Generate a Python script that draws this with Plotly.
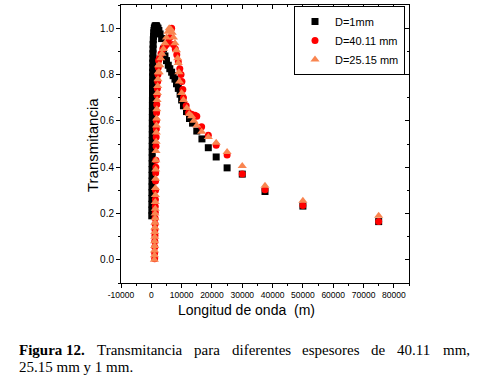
import plotly.graph_objects as go

# ---------------- data ----------------
series_names = ["D=1mm", "D=40.11 mm", "D=25.15 mm"]

x_1mm = [150, 170, 190, 200, 210, 220, 230, 240, 250, 260,
         270, 280, 290, 300, 310, 320, 330, 340, 350, 360,
         370, 380, 390, 400, 420, 440, 460, 480, 500, 530,
         560, 600, 650, 720, 800, 900, 1000, 1150, 1300, 1500,
         1700, 1900, 2200, 2500, 2900, 3400, 4000, 4500, 5000, 5600,
         6100, 6700, 7200, 7800, 8300, 8900, 9500, 10000, 10600, 11600,
         12600, 13600, 15000, 16700, 18800, 21400, 25000, 30000, 37500, 50000,
         75000]
y_1mm = [0.19, 0.215, 0.24, 0.265, 0.29, 0.315, 0.34, 0.365, 0.39, 0.415,
         0.44, 0.465, 0.49, 0.515, 0.54, 0.565, 0.59, 0.615, 0.64, 0.665,
         0.69, 0.715, 0.74, 0.765, 0.79, 0.81, 0.83, 0.85, 0.87, 0.89,
         0.91, 0.93, 0.95, 0.965, 0.98, 0.99, 1.0, 1.005, 1.01, 1.01,
         1.01, 1.005, 1.0, 0.99, 0.975, 0.955, 0.91, 0.88, 0.86, 0.84,
         0.825, 0.81, 0.795, 0.78, 0.76, 0.74, 0.715, 0.69, 0.665, 0.64,
         0.61, 0.59, 0.556, 0.522, 0.484, 0.444, 0.397, 0.37, 0.295, 0.232,
         0.165]

x_4011 = [1100, 1100, 1150, 1150, 1200, 1200, 1250, 1250, 1300, 1300,
          1350, 1400, 1400, 1450, 1500, 1500, 1550, 1600, 1650, 1700,
          1750, 1800, 1900, 2000, 2100, 2200, 2300, 2400,
          2700, 3200, 3800, 4400, 5000, 5600, 6100, 6700, 7300, 7900,
          8400, 8900, 9400, 9800, 10100, 10400, 10600, 11500, 12300, 13300,
          14400, 15000, 16600, 18800, 21400, 25000, 30000, 37500, 50000, 75000]
y_4011 = [0.005, 0.03, 0.055, 0.08, 0.105, 0.13, 0.155, 0.18, 0.205, 0.23,
          0.26, 0.30, 0.34, 0.375, 0.40, 0.43, 0.49, 0.53, 0.565, 0.60,
          0.635, 0.67, 0.71, 0.74, 0.77, 0.80, 0.83, 0.86,
          0.87, 0.89, 0.91, 0.92, 0.93, 0.94, 0.96, 1.0, 0.93, 0.91,
          0.885, 0.855, 0.825, 0.80, 0.77, 0.735, 0.70, 0.665, 0.635, 0.628,
          0.624, 0.62, 0.574, 0.538, 0.495, 0.452, 0.37, 0.303, 0.235, 0.165]

x_2515 = [1000, 1050, 1050, 1100, 1100, 1150, 1150, 1200, 1200, 1250,
          1250, 1300, 1300, 1350, 1350, 1400, 1450, 1500, 1550, 1600,
          1650, 1700, 1750, 1800, 1900, 2000, 2100, 2200, 2300, 2400,
          2600, 2800,
          3100, 3500, 4000, 4500, 5000, 5500, 5900, 6400, 6900, 7300,
          7800, 8300, 8700, 8900, 9100, 9300, 10000, 10600, 11700, 12500,
          13300, 14000, 15000, 16600, 18800, 21400, 25000, 30000, 37500, 50000,
          75000]
y_2515 = [0.0, 0.02, 0.04, 0.06, 0.08, 0.10, 0.12, 0.14, 0.16, 0.18,
          0.20, 0.22, 0.25, 0.28, 0.31, 0.35, 0.39, 0.43, 0.47, 0.51,
          0.55, 0.58, 0.61, 0.65, 0.69, 0.72, 0.75, 0.78, 0.81, 0.84,
          0.81, 0.84,
          0.87, 0.89, 0.91, 0.935, 0.96, 0.985, 1.0, 0.995, 0.98, 0.96,
          0.935, 0.905, 0.87, 0.85, 0.81, 0.77, 0.72, 0.69, 0.655, 0.63,
          0.62, 0.60, 0.58, 0.553, 0.53, 0.505, 0.466, 0.405, 0.32, 0.255,
          0.19]

x_tick_vals = [-10000, 0, 10000, 20000, 30000, 40000, 50000, 60000, 70000, 80000]
x_tick_labels = ["-10000", "0", "10000", "20000", "30000", "40000",
                 "50000", "60000", "70000", "80000"]
y_tick_vals = [0.0, 0.2, 0.4, 0.6, 0.8, 1.0]
y_tick_labels = ["0.0", "0.2", "0.4", "0.6", "0.8", "1.0"]

x_title = "Longitud de onda\u00a0 (m)"
y_title = "Transmitancia"
caption_line1 = [("<b>Figura 12.</b>", 17), ("Transmitancia", 95), ("para", 192),
                 ("diferentes", 230), ("espesores", 300), ("de", 369),
                 ("40.11", 395), ("mm,", 441)]
caption_line2 = "25.15 mm y 1 mm."

# ---------------- figure ----------------
W, H = 478, 384
L, R, T, B = 121, 409, 5, 283
XR = [-10000, 85000]
YR = [-0.1, 1.1]

SANS = "Liberation Sans, Arial, sans-serif"
SERIF = "Liberation Serif, Times New Roman, serif"


def px(xp):
    return (xp - L) / (R - L)


def py(yp):
    return (B - yp) / (B - T)


fig = go.Figure()
fig.add_trace(go.Scatter(x=x_1mm, y=y_1mm, mode="markers", name=series_names[0],
                         marker=dict(symbol="square", size=7, color="#000000",
                                     line=dict(width=0))))
fig.add_trace(go.Scatter(x=x_4011, y=y_4011, mode="markers", name=series_names[1],
                         marker=dict(symbol="circle", size=7, color="#FF0000",
                                     line=dict(width=0))))
fig.add_trace(go.Scatter(x=x_2515, y=y_2515, mode="markers", name=series_names[2],
                         marker=dict(symbol="triangle-up", size=8, color="#F98550",
                                     line=dict(width=0))))
# dummy trace for mirrored (inside) axes
fig.add_trace(go.Scatter(x=[], y=[], xaxis="x2", yaxis="y2", showlegend=False,
                         hoverinfo="skip"))

fig.update_layout(
    width=W, height=H,
    margin=dict(l=L, r=W - R, t=T, b=H - B, pad=0),
    plot_bgcolor="white", paper_bgcolor="white",
    showlegend=True,
    legend=dict(x=px(294), y=py(6), xanchor="left", yanchor="top",
                bordercolor="black", borderwidth=1, bgcolor="white",
                font=dict(family=SANS, size=11, color="black"),
                itemwidth=30, tracegroupgap=0),
    xaxis=dict(range=XR, showline=True, linecolor="black", linewidth=1, mirror=True,
               ticks="outside", ticklen=4, tickcolor="black", tickwidth=1,
               tickmode="array", tickvals=x_tick_vals, ticktext=x_tick_labels,
               minor=dict(ticks="outside", ticklen=2, tickcolor="black",
                          tickmode="linear", tick0=0, dtick=5000),
               showgrid=False, zeroline=False,
               tickfont=dict(family=SANS, size=8.5, color="black")),
    yaxis=dict(range=YR, showline=True, linecolor="black", linewidth=1, mirror=True,
               ticks="outside", ticklen=4, tickcolor="black", tickwidth=1,
               tickmode="array", tickvals=y_tick_vals, ticktext=y_tick_labels,
               minor=dict(ticks="outside", ticklen=2, tickcolor="black",
                          tickmode="linear", tick0=0, dtick=0.1),
               showgrid=False, zeroline=False,
               tickfont=dict(family=SANS, size=10, color="black")),
    xaxis2=dict(range=XR, overlaying="x", side="top", anchor="y2",
                ticks="inside", ticklen=4, tickcolor="black",
                tickmode="array", tickvals=x_tick_vals, showticklabels=False,
                minor=dict(ticks="inside", ticklen=2, tickcolor="black",
                           tickmode="linear", tick0=0, dtick=5000),
                showgrid=False, zeroline=False, showline=False),
    yaxis2=dict(range=YR, overlaying="y", side="right", anchor="x2",
                ticks="inside", ticklen=4, tickcolor="black",
                tickmode="array", tickvals=y_tick_vals, showticklabels=False,
                minor=dict(ticks="inside", ticklen=2, tickcolor="black",
                           tickmode="linear", tick0=0, dtick=0.1),
                showgrid=False, zeroline=False, showline=False),
)

ann = []
ann.append(dict(text=y_title, x=px(92), y=py(145), xref="paper", yref="paper",
                showarrow=False, textangle=-90, xanchor="center", yanchor="middle",
                font=dict(family=SANS, size=15, color="black")))
ann.append(dict(text=x_title, x=px(246), y=py(310), xref="paper", yref="paper",
                showarrow=False, xanchor="center", yanchor="middle",
                font=dict(family=SANS, size=14, color="black")))
for word, xp in caption_line1:
    ann.append(dict(text=word, x=px(xp), y=py(350), xref="paper", yref="paper",
                    showarrow=False, xanchor="left", yanchor="middle",
                    font=dict(family=SERIF, size=15, color="black")))
ann.append(dict(text=caption_line2, x=px(17), y=py(367), xref="paper", yref="paper",
                showarrow=False, xanchor="left", yanchor="middle",
                font=dict(family=SERIF, size=15, color="black")))
fig.update_layout(annotations=ann)

fig.write_html("out.html", config={"displayModeBar": False},
               post_script="document.body.style.margin='0';document.body.style.padding='0';")
